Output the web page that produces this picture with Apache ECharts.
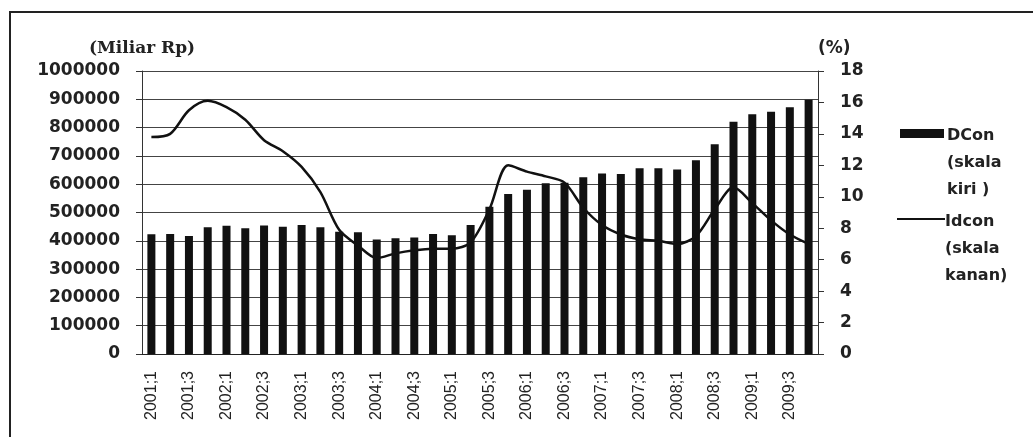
<!DOCTYPE html>
<html><head><meta charset="utf-8">
<script src="https://cdn.jsdelivr.net/npm/echarts@6/dist/echarts.min.js"></script>
<style>html,body{margin:0;padding:0;background:#fff}#c{width:1033px;height:437px}</style>
</head><body><div id="c"></div>
<script>
const categories = [];
const years = [2001,2002,2003,2004,2005,2006,2007,2008,2009];
for (const y of years) for (let q = 1; q <= 4; q++) categories.push(y + ';' + q);
const dcon = [423000,424000,417000,448000,453000,444000,454000,450000,456000,448000,432000,430000,
  405000,409000,412000,424000,420000,456000,520000,565000,580000,603000,605000,625000,
  638000,636000,656000,656000,652000,685000,741000,821000,847000,856000,872000,898000];
const idcon = [13.8,14.0,15.5,16.1,15.7,14.9,13.6,12.9,11.9,10.3,7.9,6.9,
  6.1,6.4,6.6,6.7,6.7,7.1,9.2,12.0,11.6,11.3,10.9,9.3,
  8.2,7.6,7.3,7.2,7.0,7.5,9.2,10.6,9.6,8.5,7.6,7.0];
const leftTicks = {min:0, max:1000000, interval:100000};
const rightTicks = {min:0, max:18, interval:2};

const chart = echarts.init(document.getElementById('c'));
const lblFont = {fontFamily:'DejaVu Sans', fontWeight:'bold', fontSize:17, color:'#222'};
chart.setOption({
  animation:false,
  backgroundColor:'#fff',
  grid:{left:142, right:215, top:71, bottom:83},
  xAxis:{type:'category', data:categories, boundaryGap:true,
    axisLine:{lineStyle:{color:'#222', width:1}}, axisTick:{show:false},
    axisLabel:{interval:1, rotate:90, margin:17, fontFamily:'Liberation Sans', fontSize:16, color:'#222'}},
  yAxis:[
    {type:'value', min:leftTicks.min, max:leftTicks.max, interval:leftTicks.interval,
     name:'(Miliar Rp)', nameLocation:'end', nameGap:14,
     nameTextStyle:{fontFamily:'DejaVu Serif', fontWeight:'bold', fontSize:17, color:'#222', align:'center'},
     axisLine:{show:true, lineStyle:{color:'#333'}}, axisTick:{show:true, length:6, lineStyle:{color:'#333'}},
     axisLabel:Object.assign({margin:22, formatter:v => String(v)}, lblFont),
     splitLine:{show:true, lineStyle:{color:'#444', width:1}}},
    {type:'value', position:'right', min:rightTicks.min, max:rightTicks.max, interval:rightTicks.interval,
     name:'(%)', nameLocation:'end', nameGap:14,
     nameTextStyle:{fontFamily:'DejaVu Sans', fontWeight:'bold', fontSize:17, color:'#222', align:'left'},
     axisLine:{show:true, lineStyle:{color:'#333'}}, axisTick:{show:true, length:6, lineStyle:{color:'#333'}},
     axisLabel:Object.assign({margin:22}, lblFont),
     splitLine:{show:false}}
  ],
  series:[
    {name:'DCon', type:'bar', data:dcon, yAxisIndex:0, barWidth:8, itemStyle:{color:'#111'}},
    {name:'Idcon', type:'line', data:idcon, yAxisIndex:1, symbol:'none', smooth:0.3,
     lineStyle:{color:'#111', width:2.5}}
  ],
  graphic:[
    {type:'rect', shape:{x:10, y:12, width:1100, height:500}, style:{fill:'none', stroke:'#222', lineWidth:2}, silent:true},
    {type:'rect', shape:{x:900, y:129, width:44, height:9}, style:{fill:'#111'}},
    {type:'text', left:947, top:122, style:{text:'DCon\n(skala\nkiri )', font:'bold 16px "DejaVu Sans"', fill:'#222', lineHeight:27}},
    {type:'line', shape:{x1:897, y1:219, x2:945, y2:219}, style:{stroke:'#111', lineWidth:2}},
    {type:'text', left:945, top:208, style:{text:'Idcon\n(skala\nkanan)', font:'bold 16px "DejaVu Sans"', fill:'#222', lineHeight:27}}
  ]
});
</script></body></html>
